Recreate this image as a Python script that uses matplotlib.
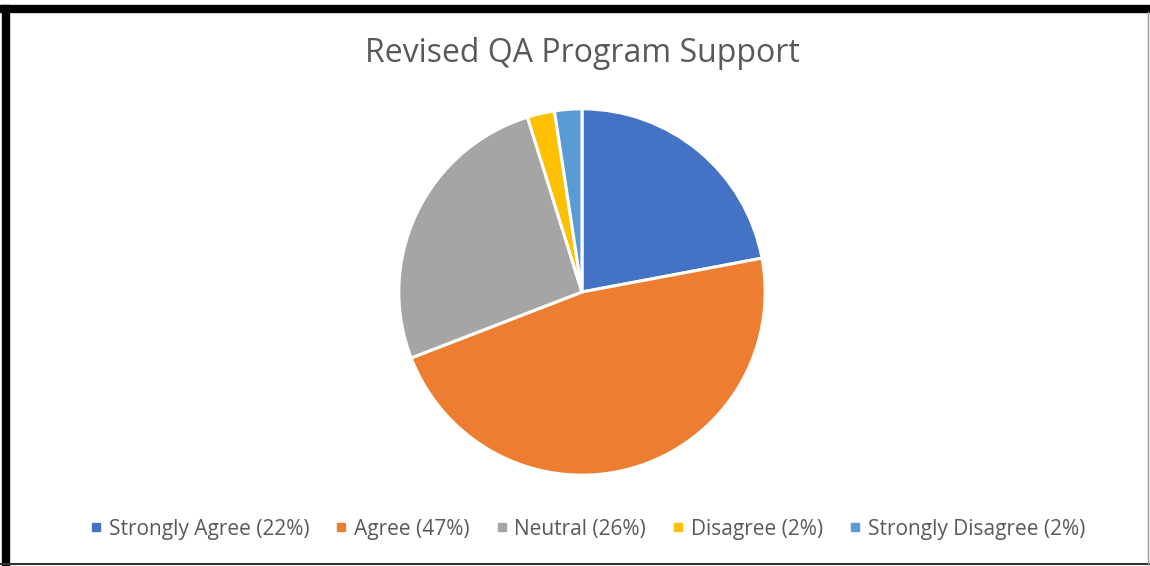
import matplotlib
matplotlib.use("Agg")
import matplotlib.pyplot as plt
from matplotlib.lines import Line2D

# Survey data
categories = ["Strongly Agree", "Agree", "Neutral", "Disagree", "Strongly Disagree"]
shares = [22, 47, 26, 2.4, 2.4]
legend_pct = ["22%", "47%", "26%", "2%", "2%"]
colors = ["#4472C4", "#ED7D31", "#A5A5A5", "#FFC000", "#5B9BD5"]

W, H = 1150, 566
fig = plt.figure(figsize=(W / 100, H / 100), dpi=100)
fig.patch.set_facecolor("white")

# pie axes placed at the same spot as the original
cx, cy, r = 582, 292, 185
ax = fig.add_axes([(cx - r) / W, (H - cy - r) / H, 2 * r / W, 2 * r / H])
ax.pie(shares, colors=colors, startangle=90, counterclock=False,
       wedgeprops=dict(edgecolor="white", linewidth=2.2))
ax.set_xlim(-1.01, 1.01)
ax.set_ylim(-1.01, 1.01)
ax.set_aspect("equal")

fig.text(582 / W, 1 - 54 / H, "Revised QA Program Support", ha="center", va="center",
         fontsize=23, color="#595959", family="Open Sans")

handles = [Line2D([], [], marker="s", linestyle="none", markersize=6,
                  markerfacecolor=c, markeredgecolor=c) for c in colors]
labels = [f"{c} ({p})" for c, p in zip(categories, legend_pct)]
fig.legend(handles, labels, loc="center", bbox_to_anchor=(588 / W, 1 - 529 / H),
           ncol=5, frameon=False, handlelength=0.5, handletextpad=0.35,
           columnspacing=1.3, labelcolor="#595959", prop={"family": "Open Sans", "size": 15})

# outer frame of the screenshot
fig.add_artist(Line2D([6 / W, 6 / W], [0, 1 - 9 / H], color="black", lw=6, transform=fig.transFigure))
fig.add_artist(Line2D([3 / W, 1], [1 - 9 / H, 1 - 9 / H], color="black", lw=6, transform=fig.transFigure))
fig.add_artist(Line2D([0, 1], [1 - 564 / H, 1 - 564 / H], color="#333333", lw=1.5, transform=fig.transFigure))
fig.add_artist(Line2D([1148 / W, 1148 / W], [0, 1 - 12 / H], color="#999999", lw=1, transform=fig.transFigure))

fig.savefig("out.png", dpi=100)
